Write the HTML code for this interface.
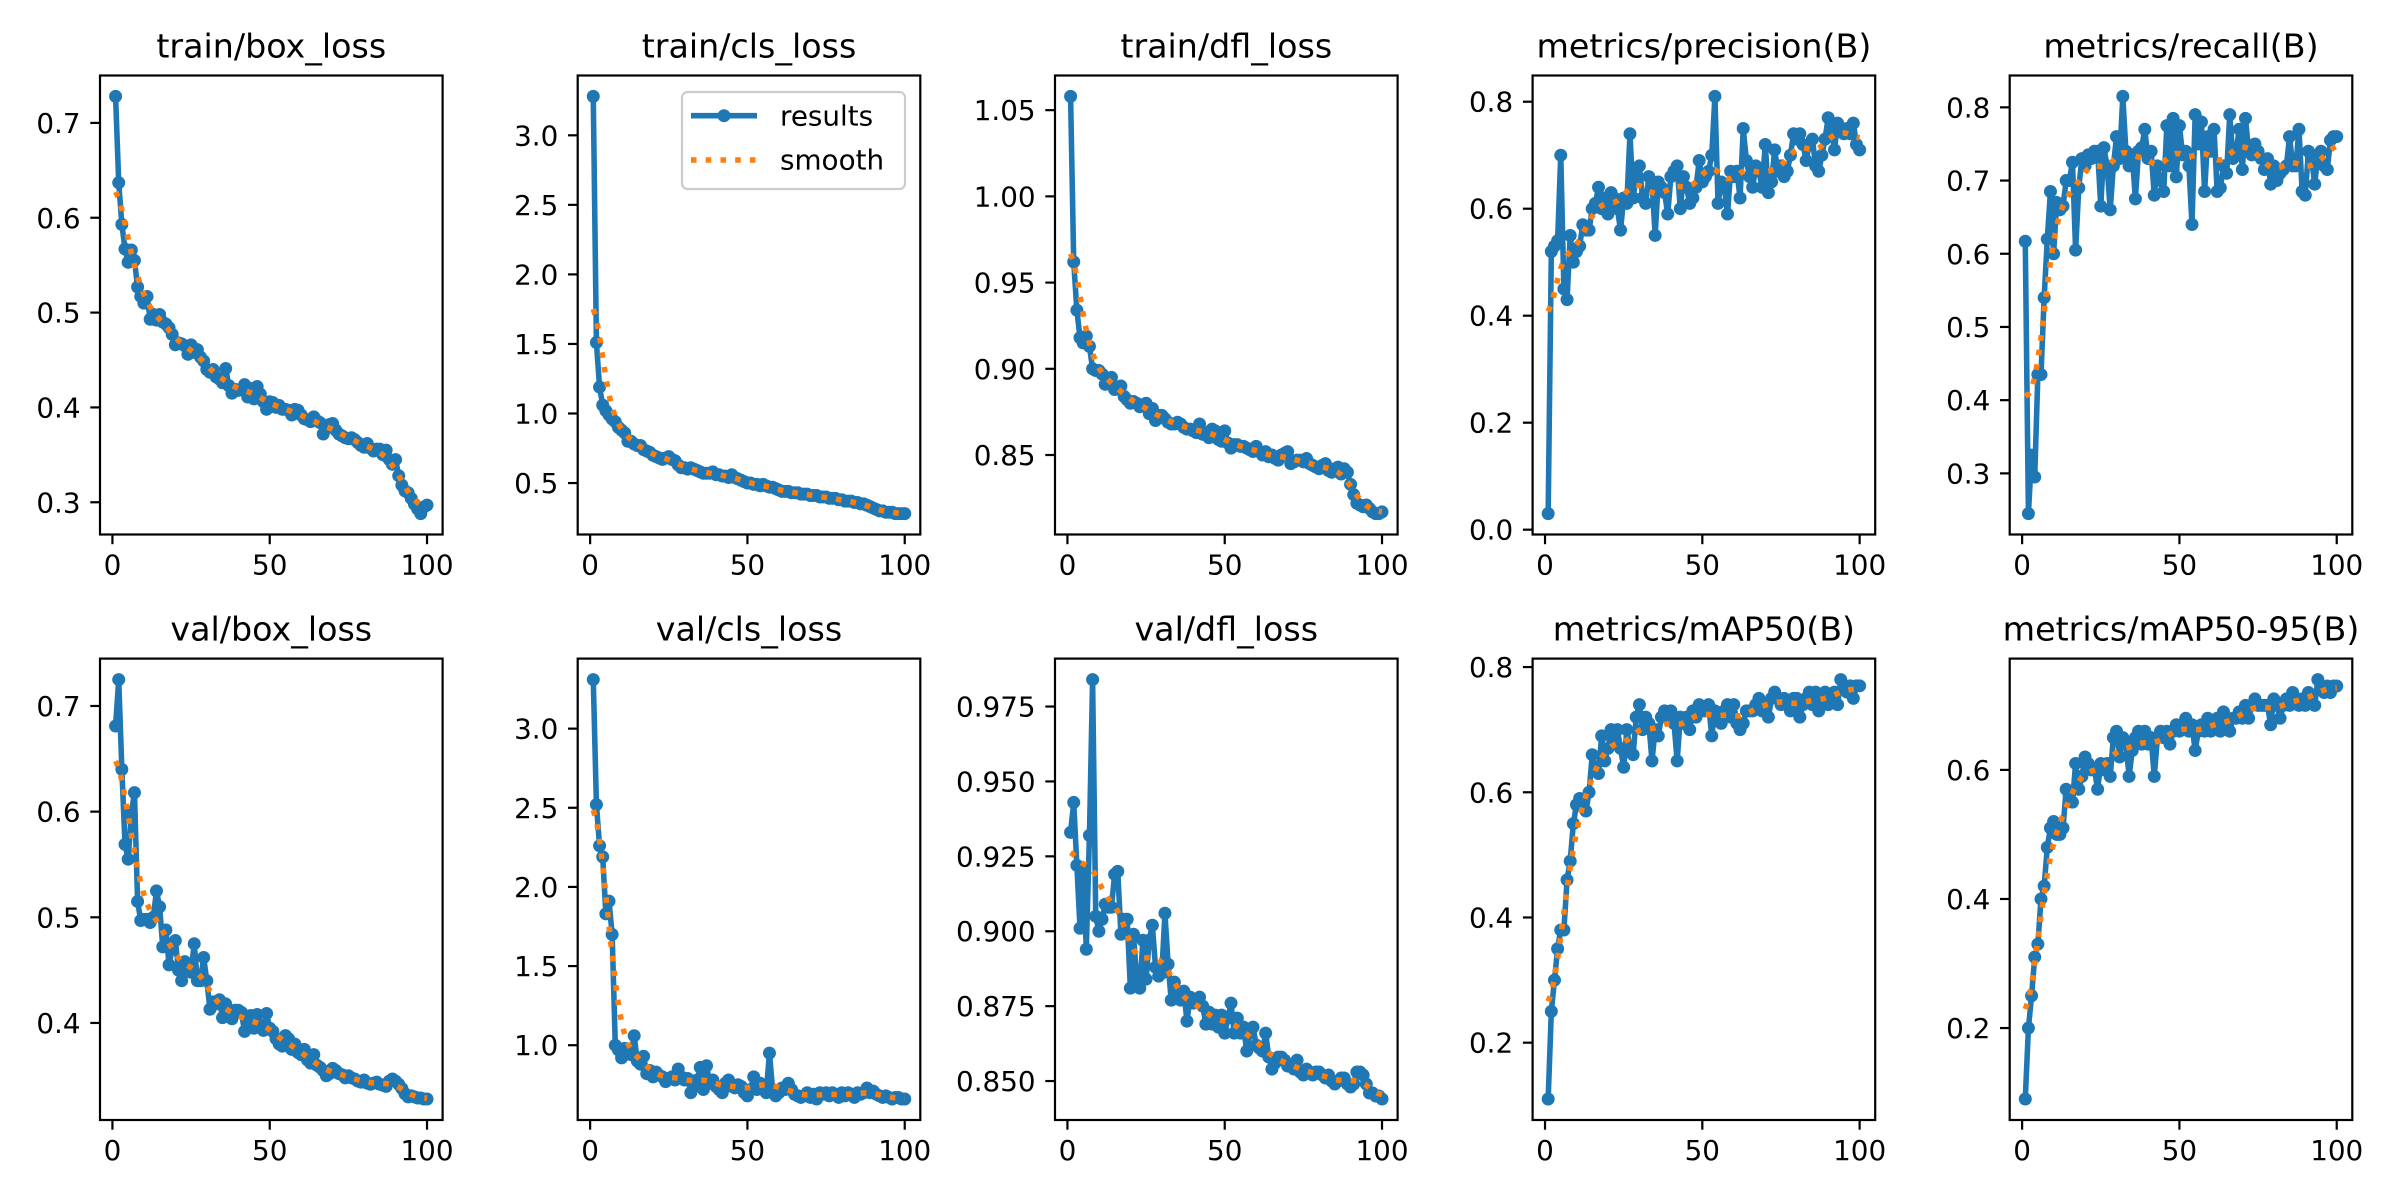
<!DOCTYPE html>
<html><head><meta charset="utf-8"><style>
html,body{margin:0;padding:0;background:#fff;}
svg{display:block;}
text{font-family:"DejaVu Sans","Liberation Sans",sans-serif;fill:#000;}
</style></head><body>
<svg id="fig" xmlns="http://www.w3.org/2000/svg" width="2400" height="1200" viewBox="0 0 2400 1200">
<rect x="0" y="0" width="2400" height="1200" fill="#fff"/>
</svg>
<script>
const titles=["train/box_loss","train/cls_loss","train/dfl_loss","metrics/precision(B)","metrics/recall(B)","val/box_loss","val/cls_loss","val/dfl_loss","metrics/mAP50(B)","metrics/mAP50-95(B)"];
const xTicks=[0,50,100];
const xTickLabels=["0","50","100"];
const yTicks=[[0.3,0.4,0.5,0.6,0.7],[0.5,1.0,1.5,2.0,2.5,3.0],[0.85,0.90,0.95,1.00,1.05],[0.0,0.2,0.4,0.6,0.8],[0.3,0.4,0.5,0.6,0.7,0.8],[0.4,0.5,0.6,0.7],[1.0,1.5,2.0,2.5,3.0],[0.850,0.875,0.900,0.925,0.950,0.975],[0.2,0.4,0.6,0.8],[0.2,0.4,0.6]];
const yTickLabels=[["0.3","0.4","0.5","0.6","0.7"],["0.5","1.0","1.5","2.0","2.5","3.0"],["0.85","0.90","0.95","1.00","1.05"],["0.0","0.2","0.4","0.6","0.8"],["0.3","0.4","0.5","0.6","0.7","0.8"],["0.4","0.5","0.6","0.7"],["1.0","1.5","2.0","2.5","3.0"],["0.850","0.875","0.900","0.925","0.950","0.975"],["0.2","0.4","0.6","0.8"],["0.2","0.4","0.6"]];
const trainBox=[0.728,0.637,0.593,0.567,0.553,0.566,0.555,0.527,0.517,0.510,0.517,0.493,0.498,0.492,0.498,0.490,0.488,0.484,0.477,0.466,0.468,0.467,0.465,0.456,0.466,0.458,0.461,0.453,0.449,0.440,0.437,0.440,0.432,0.430,0.426,0.441,0.423,0.415,0.419,0.418,0.419,0.424,0.411,0.420,0.409,0.422,0.414,0.406,0.398,0.406,0.405,0.400,0.402,0.398,0.398,0.397,0.392,0.398,0.397,0.392,0.388,0.387,0.385,0.390,0.386,0.384,0.372,0.378,0.382,0.383,0.376,0.372,0.370,0.368,0.367,0.368,0.366,0.363,0.360,0.358,0.362,0.357,0.354,0.356,0.356,0.350,0.355,0.345,0.340,0.345,0.328,0.318,0.312,0.310,0.304,0.298,0.293,0.288,0.295,0.297];
const trainCls=[3.28,1.51,1.19,1.06,1.02,0.99,0.96,0.94,0.90,0.88,0.86,0.80,0.80,0.78,0.77,0.77,0.74,0.73,0.72,0.70,0.69,0.68,0.67,0.68,0.69,0.67,0.66,0.63,0.61,0.61,0.60,0.61,0.60,0.59,0.58,0.57,0.57,0.57,0.58,0.56,0.56,0.55,0.55,0.54,0.56,0.54,0.53,0.52,0.51,0.50,0.50,0.49,0.49,0.48,0.49,0.48,0.47,0.47,0.46,0.45,0.44,0.44,0.44,0.43,0.43,0.43,0.42,0.42,0.42,0.41,0.41,0.41,0.40,0.40,0.40,0.39,0.39,0.39,0.38,0.38,0.37,0.37,0.37,0.36,0.36,0.35,0.35,0.34,0.33,0.32,0.31,0.30,0.30,0.29,0.29,0.29,0.28,0.28,0.28,0.28];
const trainDfl=[1.058,0.962,0.934,0.918,0.915,0.919,0.913,0.900,0.899,0.899,0.897,0.891,0.893,0.895,0.888,0.889,0.890,0.884,0.882,0.880,0.881,0.880,0.878,0.879,0.880,0.874,0.877,0.870,0.873,0.873,0.871,0.869,0.868,0.868,0.869,0.868,0.866,0.865,0.865,0.864,0.863,0.868,0.862,0.863,0.860,0.865,0.864,0.859,0.858,0.864,0.857,0.854,0.856,0.856,0.855,0.855,0.854,0.853,0.852,0.855,0.852,0.850,0.852,0.849,0.850,0.848,0.847,0.850,0.851,0.852,0.845,0.846,0.847,0.847,0.846,0.848,0.845,0.844,0.843,0.842,0.844,0.845,0.841,0.840,0.842,0.843,0.839,0.842,0.840,0.833,0.827,0.822,0.821,0.820,0.821,0.819,0.817,0.816,0.816,0.817];
const precision=[0.03,0.52,0.53,0.54,0.70,0.45,0.43,0.55,0.50,0.52,0.53,0.57,0.56,0.56,0.60,0.61,0.64,0.60,0.62,0.59,0.63,0.62,0.60,0.56,0.62,0.61,0.74,0.62,0.66,0.68,0.62,0.61,0.66,0.65,0.55,0.65,0.64,0.63,0.59,0.66,0.67,0.68,0.60,0.66,0.64,0.61,0.62,0.64,0.69,0.65,0.66,0.67,0.70,0.81,0.61,0.65,0.64,0.59,0.67,0.66,0.67,0.62,0.75,0.69,0.66,0.64,0.68,0.67,0.64,0.72,0.63,0.65,0.71,0.67,0.68,0.66,0.67,0.70,0.74,0.73,0.74,0.72,0.69,0.72,0.73,0.68,0.67,0.70,0.73,0.77,0.75,0.71,0.76,0.75,0.74,0.75,0.74,0.76,0.72,0.71];
const recall=[0.617,0.245,0.325,0.295,0.435,0.435,0.54,0.62,0.685,0.60,0.67,0.66,0.665,0.70,0.70,0.725,0.605,0.69,0.73,0.72,0.735,0.73,0.74,0.74,0.665,0.745,0.72,0.66,0.72,0.76,0.73,0.815,0.74,0.72,0.735,0.675,0.74,0.745,0.77,0.73,0.74,0.68,0.72,0.70,0.685,0.775,0.72,0.785,0.705,0.775,0.735,0.74,0.72,0.64,0.79,0.75,0.78,0.685,0.76,0.74,0.77,0.685,0.69,0.72,0.71,0.79,0.73,0.74,0.77,0.715,0.785,0.74,0.735,0.75,0.74,0.73,0.715,0.73,0.695,0.72,0.70,0.71,0.715,0.72,0.76,0.72,0.72,0.77,0.685,0.68,0.74,0.73,0.695,0.735,0.74,0.72,0.715,0.755,0.76,0.76];
const valBox=[0.681,0.725,0.640,0.569,0.555,0.598,0.618,0.515,0.497,0.498,0.498,0.495,0.500,0.525,0.510,0.472,0.488,0.455,0.470,0.478,0.450,0.440,0.458,0.455,0.448,0.475,0.440,0.440,0.462,0.440,0.413,0.420,0.418,0.422,0.405,0.418,0.410,0.404,0.412,0.412,0.410,0.392,0.400,0.407,0.395,0.408,0.398,0.393,0.409,0.395,0.392,0.385,0.380,0.378,0.388,0.385,0.375,0.380,0.372,0.370,0.375,0.365,0.362,0.370,0.360,0.358,0.355,0.350,0.352,0.357,0.355,0.352,0.351,0.348,0.350,0.348,0.347,0.345,0.344,0.346,0.343,0.342,0.343,0.344,0.342,0.341,0.340,0.345,0.347,0.345,0.342,0.338,0.333,0.330,0.331,0.330,0.329,0.329,0.328,0.328];
const valCls=[3.31,2.52,2.26,2.19,1.83,1.91,1.70,1.00,0.97,0.92,0.98,0.95,0.94,1.06,0.90,0.88,0.93,0.82,0.84,0.80,0.83,0.81,0.80,0.77,0.79,0.80,0.78,0.85,0.80,0.78,0.79,0.70,0.74,0.78,0.86,0.72,0.87,0.76,0.78,0.74,0.72,0.70,0.76,0.78,0.74,0.73,0.75,0.74,0.70,0.68,0.72,0.80,0.72,0.76,0.72,0.70,0.95,0.72,0.68,0.70,0.73,0.72,0.76,0.72,0.69,0.68,0.67,0.68,0.70,0.67,0.69,0.66,0.70,0.69,0.70,0.68,0.70,0.69,0.67,0.70,0.68,0.70,0.69,0.67,0.70,0.69,0.70,0.73,0.70,0.71,0.69,0.68,0.67,0.68,0.67,0.66,0.67,0.67,0.66,0.66];
const valDfl=[0.933,0.943,0.922,0.901,0.921,0.894,0.932,0.984,0.905,0.900,0.904,0.909,0.908,0.908,0.919,0.920,0.899,0.904,0.904,0.881,0.899,0.884,0.881,0.897,0.884,0.897,0.902,0.888,0.885,0.886,0.906,0.889,0.877,0.883,0.880,0.877,0.880,0.870,0.878,0.876,0.877,0.878,0.875,0.869,0.873,0.869,0.872,0.868,0.872,0.866,0.871,0.876,0.866,0.871,0.866,0.868,0.860,0.866,0.868,0.862,0.861,0.860,0.866,0.858,0.854,0.856,0.858,0.858,0.857,0.855,0.855,0.854,0.857,0.853,0.852,0.854,0.853,0.852,0.853,0.853,0.852,0.851,0.852,0.850,0.849,0.850,0.851,0.851,0.849,0.848,0.849,0.853,0.853,0.852,0.849,0.846,0.846,0.845,0.845,0.844];
const map50=[0.11,0.25,0.30,0.35,0.38,0.38,0.46,0.49,0.55,0.58,0.59,0.58,0.57,0.60,0.66,0.64,0.63,0.69,0.65,0.67,0.70,0.68,0.70,0.67,0.64,0.70,0.67,0.66,0.72,0.74,0.70,0.72,0.71,0.65,0.70,0.69,0.72,0.73,0.72,0.73,0.71,0.65,0.72,0.71,0.72,0.70,0.73,0.72,0.74,0.73,0.73,0.74,0.69,0.73,0.72,0.71,0.73,0.74,0.72,0.74,0.71,0.70,0.71,0.73,0.73,0.73,0.74,0.75,0.73,0.74,0.72,0.75,0.76,0.75,0.74,0.75,0.74,0.73,0.75,0.75,0.72,0.74,0.75,0.76,0.74,0.76,0.73,0.75,0.76,0.74,0.75,0.76,0.74,0.78,0.77,0.76,0.77,0.75,0.77,0.77];
const map5095=[0.09,0.20,0.25,0.31,0.33,0.40,0.42,0.48,0.51,0.52,0.50,0.50,0.51,0.57,0.56,0.55,0.61,0.57,0.59,0.62,0.61,0.60,0.60,0.57,0.61,0.60,0.61,0.59,0.65,0.66,0.62,0.65,0.64,0.59,0.63,0.65,0.66,0.64,0.66,0.64,0.65,0.59,0.65,0.66,0.65,0.66,0.64,0.66,0.67,0.66,0.67,0.68,0.66,0.67,0.63,0.66,0.67,0.66,0.68,0.66,0.67,0.68,0.66,0.69,0.67,0.66,0.68,0.68,0.69,0.68,0.70,0.68,0.70,0.71,0.70,0.70,0.70,0.70,0.67,0.71,0.70,0.68,0.70,0.71,0.70,0.72,0.71,0.70,0.71,0.70,0.72,0.71,0.70,0.74,0.73,0.72,0.73,0.72,0.73,0.73];
const seriesList=[trainBox,trainCls,trainDfl,precision,recall,valBox,valCls,valDfl,map50,map5095];

const NS="http://www.w3.org/2000/svg";
const svg=document.getElementById('fig');
const colLeft=[100,577.7,1055,1532.6,2009.7];
const AW=342.6;
const rowTop=[75.5,658.6], rowBot=[534.5,1120];
const BLUE="#1f77b4", ORANGE="#ff7f0e";
function mk(tag,attrs,parent){const e=document.createElementNS(NS,tag);for(const k in attrs)e.setAttribute(k,attrs[k]);(parent||svg).appendChild(e);return e;}
function gaussSmooth(y,sigma){
  const r=Math.round(4*sigma),w=[];let s=0;
  for(let k=-r;k<=r;k++){const v=Math.exp(-0.5*k*k/(sigma*sigma));w.push(v);s+=v;}
  const n=y.length,out=[];
  for(let i=0;i<n;i++){let acc=0;for(let k=-r;k<=r;k++){let j=i+k;while(j<0||j>=n){if(j<0)j=-j-1;if(j>=n)j=2*n-j-1;}acc+=w[k+r]*y[j];}out.push(acc/s);}
  return out;
}
for(let p=0;p<10;p++){
  const data=seriesList[p];
  const col=p%5,row=Math.floor(p/5);
  const L=colLeft[col],R=L+AW,T=rowTop[row],B=rowBot[row];
  const n=data.length;
  const xmin=1-0.05*(n-1),xmax=n+0.05*(n-1);
  const dmin=Math.min(...data),dmax=Math.max(...data),dr=dmax-dmin;
  const ymin=dmin-0.05*dr,ymax=dmax+0.05*dr;
  const sx=v=>L+(v-xmin)/(xmax-xmin)*AW;
  const sy=v=>B-(v-ymin)/(ymax-ymin)*(B-T);
  const g=mk('g',{});
  
  
  const cp=mk('clipPath',{id:'cp'+p},g);mk('rect',{x:L,y:T,width:AW,height:B-T},cp);
  const title=mk('text',{x:(L+R)/2,y:T-18,'font-size':33.3,'text-anchor':'middle'},g);
  title.textContent=titles[p];
  
  
  // x ticks
  for(let i=0;i<xTicks.length;i++){
    const x=sx(xTicks[i]);
    const tk=mk('line',{x1:x,y1:B,x2:x,y2:B+9.7,stroke:'#000','stroke-width':2.2},g);
    
    
    const t=mk('text',{x:x,y:B+40,'font-size':27.8,'text-anchor':'middle'},g);
    t.textContent=xTickLabels[i];
    
    
  }
  const yt=yTicks[p],yl=yTickLabels[p];
  for(let i=0;i<yt.length;i++){
    const y=sy(yt[i]);
    const tk=mk('line',{x1:L-9.7,y1:y,x2:L,y2:y,stroke:'#000','stroke-width':2.2},g);
    
    
    const t=mk('text',{x:L-19.4,y:y+10,'font-size':27.8,'text-anchor':'end'},g);
    t.textContent=yl[i];
    
    
  }
  const plot=mk('g',{'clip-path':'url(#cp'+p+')'},g);
  let d='';
  data.forEach((v,i)=>{d+=(i?'L':'M')+sx(i+1).toFixed(2)+' '+sy(v).toFixed(2);});
  const line=mk('path',{d:d,fill:'none',stroke:BLUE,'stroke-width':5.56,'stroke-linejoin':'round'},plot);
  
  
  data.forEach((v,i)=>{
    const c=mk('circle',{cx:sx(i+1),cy:sy(v),r:6.5,fill:BLUE},plot);
    
    
  });
  const sm=gaussSmooth(data,3);
  let d2='';
  sm.forEach((v,i)=>{d2+=(i?'L':'M')+sx(i+1).toFixed(2)+' '+sy(v).toFixed(2);});
  const sl=mk('path',{d:d2,fill:'none',stroke:ORANGE,'stroke-width':5.56,'stroke-dasharray':'5.56 9.17'},plot);
  
  
  const fr=mk('rect',{x:L,y:T,width:AW,height:B-T,fill:'none',stroke:'#000','stroke-width':2.2},g);
  
  
  if(p===1){
    const lg=mk('g',{},g);
    
    
    mk('rect',{x:682,y:92,width:223,height:97,rx:5.6,fill:'#fff','fill-opacity':0.8,stroke:'#cccccc','stroke-width':2.2},lg);
    const l1=mk('line',{x1:691,y1:115.7,x2:757,y2:115.7,stroke:BLUE,'stroke-width':5.56},lg);
    
    
    mk('circle',{cx:724,cy:115.7,r:6.5,fill:BLUE},lg);
    const t1=mk('text',{x:780,y:125.5,'font-size':27.8},lg);t1.textContent='results';
    
    
    const l2=mk('line',{x1:691,y1:160,x2:757,y2:160,stroke:ORANGE,'stroke-width':5.56,'stroke-dasharray':'5.56 9.17'},lg);
    
    
    const t2=mk('text',{x:780,y:169.5,'font-size':27.8},lg);t2.textContent='smooth';
    
    
  }
}
</script>
</body></html>
